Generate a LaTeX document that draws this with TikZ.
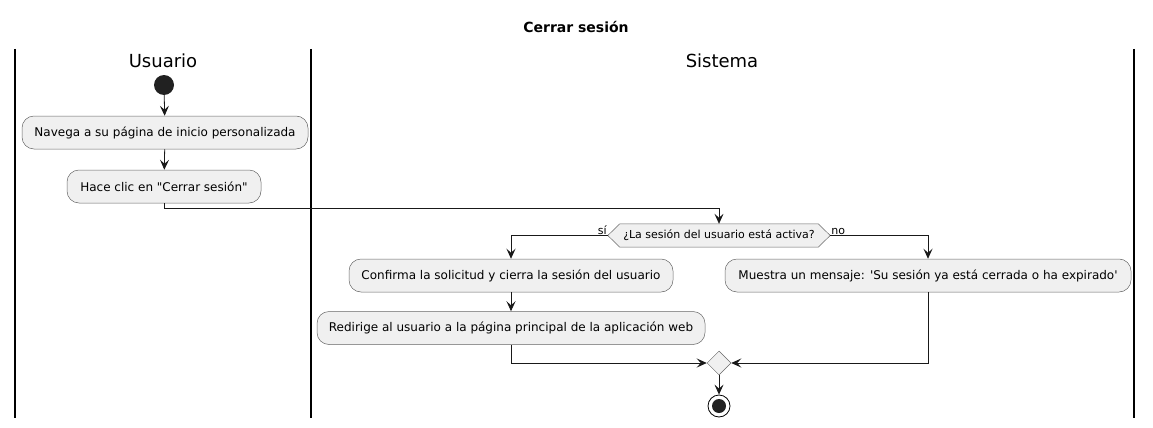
\documentclass[tikz,border=0pt]{standalone}
\usepackage{fontspec}
\setmainfont{DejaVu Sans}[Ligatures=TeXOff]
\usetikzlibrary{arrows.meta,shapes.geometric}
\begin{document}
\begin{tikzpicture}[x=1pt,y=-1pt,
  act/.style={draw=black!60,fill=black!6,rounded corners=12pt,minimum height=33pt,inner sep=0pt,font=\fontsize{12}{14}\selectfont,line width=0.5pt},
  flow/.style={draw=black!90,line width=0.8pt,-{Stealth[length=10pt,width=9pt,inset=4pt]}},
  lane/.style={line width=1.2pt},
  lbl/.style={font=\fontsize{11}{13}\selectfont,inner sep=1pt}]
\useasboundingbox (0,0) rectangle (1153,428);
% title and lanes
\node[font=\fontsize{14}{16}\selectfont\bfseries] (title) at (576,27) {Cerrar sesión};
\draw[lane] (15,49) -- (15,418);
\draw[lane] (311,49) -- (311,418);
\draw[lane] (1134,49) -- (1134,418);
\node[font=\fontsize{18}{20}\selectfont] (lu) at (163,61) {Usuario};
\node[font=\fontsize{18}{20}\selectfont] (ls) at (722,61) {Sistema};
% nodes
\node[circle,fill=black!87,minimum size=20pt,inner sep=0pt] (start) at (164,85) {};
\node[act,minimum width=286pt] (a1) at (165,132.5) {Navega a su página de inicio personalizada};
\node[act,minimum width=194pt] (a2) at (164,186.5) {Hace clic en "Cerrar sesión"};
\node[minimum width=198pt,minimum height=23pt,inner sep=0pt,font=\fontsize{11}{13}\selectfont] (d) at (719,235.5) {¿La sesión del usuario está activa?};
\draw[draw=black!60,fill=black!6,line width=0.5pt] ([xshift=-12pt]d.west) -- (d.north west) -- (d.north east) -- ([xshift=12pt]d.east) -- (d.south east) -- (d.south west) -- cycle;
\node[minimum width=198pt,minimum height=23pt,inner sep=0pt,font=\fontsize{11}{13}\selectfont] at (d) {¿La sesión del usuario está activa?};
\coordinate (dl) at ([xshift=-12pt]d.west);
\coordinate (dr) at ([xshift=12pt]d.east);
\node[act,minimum width=324pt] (a3) at (511,275.5) {Confirma la solicitud y cierra la sesión del usuario};
\node[act,minimum width=406pt] (a4) at (928,275.5) {Muestra un mensaje: 'Su sesión ya está cerrada o ha expirado'};
\node[act,minimum width=388pt] (a5) at (511,328) {Redirige al usuario a la página principal de la aplicación web};
\node[diamond,draw=black!60,fill=black!6,minimum size=24pt,inner sep=0pt,line width=0.5pt] (m) at (719,363) {};
\node[circle,draw=black,line width=0.8pt,minimum size=22pt,inner sep=0pt] (end) at (719,406) {};
\node[circle,fill=black!87,minimum size=14pt,inner sep=0pt] at (end) {};
% connectors
\draw[flow] (start) -- (a1);
\draw[flow] (a1) -- (a2);
\draw[flow] (a2.south) -- ++(0,5) -| (d.north);
\draw[flow] (dl) -| (a3.north);
\draw[flow] (dr) -| (a4.north);
\node[lbl,anchor=south east] (si) at (dl) {sí};
\node[lbl,anchor=south west] (no) at (dr) {no};
\draw[flow] (a3) -- (a5);
\draw[flow] (a5.south) |- (m.west);
\draw[flow] (a4.south) |- (m.east);
\draw[flow] (m.south) -- (end);
\end{tikzpicture}
\end{document}
